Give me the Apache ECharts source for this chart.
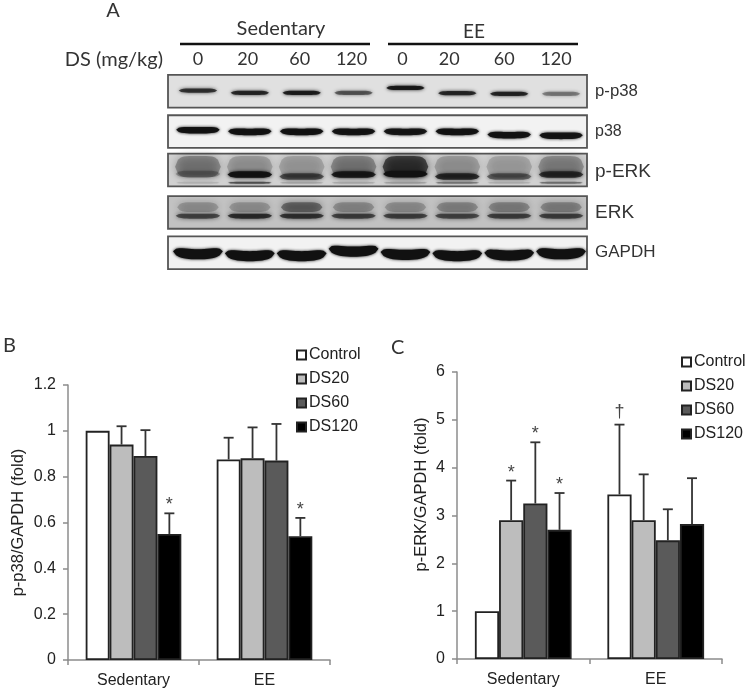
<!DOCTYPE html>
<html>
<head>
<meta charset="utf-8">
<style>html,body{margin:0;padding:0;background:#fff}#c{width:750px;height:692px}</style>
<script src="https://cdn.jsdelivr.net/npm/echarts@6/dist/echarts.min.js"></script>
</head>
<body>
<div id="c"></div>
<script>
// ---------- data ----------
const groups = ['Sedentary', 'EE'];
const seriesNames = ['Control', 'DS20', 'DS60', 'DS120'];
const p38Control = [1, 0.875];
const p38DS20 = [0.94, 0.88];
const p38DS60 = [0.89, 0.87];
const p38DS120 = [0.55, 0.54];
const p38ControlTop = [null, 0.97];
const p38DS20Top = [1.02, 1.015];
const p38DS60Top = [1.003, 1.03];
const p38DS120Top = [0.64, 0.62];
const p38Marks = [['', '', '', '*'], ['', '', '', '*']];
const erkControl = [1, 3.44];
const erkDS20 = [2.9, 2.9];
const erkDS60 = [3.25, 2.48];
const erkDS120 = [2.7, 2.82];
const erkControlTop = [null, 4.9];
const erkDS20Top = [3.73, 3.86];
const erkDS60Top = [4.53, 3.13];
const erkDS120Top = [3.47, 3.78];
const erkMarks = [['', '*', '*', '*'], ['\u2020', '', '', '']];
const p38Ticks = [0, 0.2, 0.4, 0.6, 0.8, 1, 1.2];
const erkTicks = [0, 1, 2, 3, 4, 5, 6];

const lanes = ['0', '20', '60', '120', '0', '20', '60', '120'];
const blotRows = ['p-p38', 'p38', 'p-ERK', 'ERK', 'GAPDH'];
const rowBackground = [0.12, 0.05, 0.18, 0.24, 0.05];
const pp38Bands = [0.72, 0.8, 0.88, 0.52, 0.9, 0.8, 0.82, 0.36];
const pp38Shift = [-0.02, 0.05, 0.05, 0.05, -0.1, 0.06, 0.08, 0.08];
const p38Bands = [0.98, 0.98, 0.98, 0.95, 0.92, 0.98, 0.98, 0.95];
const p38Shift = [-0.05, 0, 0, 0, 0, 0, 0.1, 0.12];
const perkMain = [0.25, 0.95, 0.55, 0.85, 0.95, 0.75, 0.45, 0.7];
const perkMainShift = [0.12, 0.14, 0.2, 0.14, 0.12, 0.2, 0.2, 0.14];
const perkSmear = [0.3, 0.2, 0.18, 0.3, 0.65, 0.2, 0.17, 0.28];
const perkFoot = [0.08, 0.5, 0.12, 0.12, 0.15, 0.3, 0.1, 0.35];
const erkLow = [0.58, 0.75, 0.7, 0.62, 0.62, 0.58, 0.62, 0.62];
const erkHigh = [0.2, 0.2, 0.42, 0.24, 0.22, 0.26, 0.28, 0.28];
const gapdhBands = [1, 1, 1, 1, 1, 1, 1, 1];
const gapdhShift = [0, 0.06, 0.06, -0.08, 0.02, 0.06, 0.04, 0];

// ---------- styles ----------
const barFill = ['#ffffff', '#bdbdbd', '#5a5a5a', '#000000'];
const sansText = '"Liberation Sans", Arial, sans-serif';
const blotFont = 'Lato, "Open Sans", sans-serif';
const catGap = 0.27;
const rowNudge = [0, 0, -2, 0, 0];
const doseNudge = [0, 2, 2, 2, 3, 8, 5, 5];

function barSeries(name, i, values, axis) {
  return {
    type: 'bar', name, data: values, xAxisIndex: axis, yAxisIndex: axis,
    barGap: '0%', barCategoryGap: (catGap * 100) + '%',
    itemStyle: { color: barFill[i], borderColor: '#222', borderWidth: 1.8 },
    emphasis: { disabled: true }, animation: false, z: 2
  };
}

function errorSeries(valueSets, topSets, marks, axis) {
  const rows = [];
  groups.forEach((g, c) => seriesNames.forEach((s, i) => {
    rows.push([c, i, topSets[i][c] == null ? valueSets[i][c] : topSets[i][c], valueSets[i][c], marks[c][i]]);
  }));
  return {
    type: 'custom', data: rows, xAxisIndex: axis, yAxisIndex: axis, silent: true,
    encode: { x: 0, y: 2 }, animation: false, z: 3, clip: false, legendHoverLink: false,
    renderItem(params, api) {
      const c = api.value(0), i = api.value(1), top = api.value(2), val = api.value(3);
      const mark = rows[params.dataIndex][4];
      const band = api.size([1, 0])[0];
      const barW = band * (1 - catGap) / 4;
      const x = api.coord([c, val])[0] + (i - 1.5) * barW;
      const y0 = api.coord([c, val])[1];
      const y1 = api.coord([c, top])[1];
      const kids = [];
      const ln = { stroke: '#333', lineWidth: 1.8 };
      if (top > val) {
        kids.push({ type: 'line', shape: { x1: x, y1: y0, x2: x, y2: y1 }, style: ln });
        kids.push({ type: 'line', shape: { x1: x - 5, y1: y1, x2: x + 5, y2: y1 }, style: ln });
      }
      if (mark) {
        kids.push({ type: 'text', style: { x, y: y1 - (mark === '*' ? 8 : 13), text: mark, fill: '#444', font: '18px ' + sansText, textAlign: 'center', textVerticalAlign: 'middle' } });
      }
      return { type: 'group', children: kids };
    }
  };
}

function bandItems() {
  const out = [];
  const add = (row, strengths, shifts, thick, width, blur, bow) => {
    strengths.forEach((s, lane) => out.push([lane, row, s, Array.isArray(shifts) ? shifts[lane] : shifts, thick, width, blur, bow]));
  };
  add(0, pp38Bands, pp38Shift, 0.13, 0.74, 3.5, 0);
  add(1, p38Bands, p38Shift, 0.2, 0.84, 3, 0.02);
  add(2, perkSmear, -0.1, 0.66, 0.88, 8, 0);
  add(2, perkFoot, 0.39, 0.06, 0.84, 2, 0);
  add(2, perkMain, perkMainShift, 0.2, 0.86, 3.5, 0);
  add(3, erkHigh, -0.16, 0.3, 0.8, 7, 0);
  add(3, erkLow, 0.11, 0.15, 0.86, 4.5, 0.02);
  add(4, gapdhBands, gapdhShift, 0.31, 0.96, 3, 0.09);
  return out;
}

function yAxisFor(ticks, gridIndex, nameText, nameGap, padding) {
  return {
    type: 'value', gridIndex, min: ticks[0], max: ticks[ticks.length - 1], interval: ticks[1] - ticks[0],
    name: nameText, nameLocation: 'middle', nameGap, nameRotate: 90,
    nameTextStyle: { fontFamily: sansText, fontSize: 16.5, color: '#222', padding },
    axisLine: { show: true, lineStyle: { color: '#8c8c8c', width: 1.5 } },
    axisTick: { show: true, length: 5, lineStyle: { color: '#8c8c8c', width: 1.5 } },
    axisLabel: { fontFamily: sansText, fontSize: 16, color: '#222', margin: 12 },
    splitLine: { show: false }
  };
}

function xAxisFor(gridIndex) {
  return {
    type: 'category', gridIndex, data: groups,
    axisLine: { show: true, lineStyle: { color: '#8c8c8c', width: 1.5 } },
    axisTick: { show: true, length: 5, alignWithLabel: false, lineStyle: { color: '#8c8c8c', width: 1.5 } },
    axisLabel: { fontFamily: sansText, fontSize: 16, color: '#222', margin: 13 }
  };
}

function legendFor(left, top) {
  return {
    left, top, orient: 'vertical', data: seriesNames, icon: 'rect', itemWidth: 9, itemHeight: 9, itemGap: 8,
    selectedMode: false,
    textStyle: { fontFamily: sansText, fontSize: 16, color: '#222', padding: [0, 0, 0, -2] }
  };
}

function headerText(x, y, text, size, align) {
  return { type: 'text', x, y, silent: true, style: { text, fill: '#333', font: size + 'px ' + blotFont, textAlign: align || 'center', textVerticalAlign: 'middle' } };
}
function headerLine(x1, x2, y) {
  return { type: 'line', silent: true, shape: { x1, y1: y, x2, y2: y }, style: { stroke: '#111', lineWidth: 2.5 } };
}

const option = {
  animation: false,
  backgroundColor: '#fff',
  grid: [
    { left: 172, top: 71, width: 415, height: 202 },
    { left: 68, top: 385, width: 262, height: 275 },
    { left: 457, top: 372, width: 265, height: 287 }
  ],
  legend: [legendFor(291, 342), legendFor(676, 349)],
  xAxis: [
    {
      type: 'category', gridIndex: 0, position: 'top', offset: 0,
      data: lanes.map((v, i) => ({ value: v, textStyle: { padding: [0, doseNudge[i] * 2, 0, 0] } })),
      axisLine: { show: false }, axisTick: { show: false },
      axisLabel: { fontFamily: blotFont, fontSize: 18, color: '#333', margin: 3, interval: 0 }
    },
    xAxisFor(1), xAxisFor(2)
  ],
  yAxis: [
    {
      type: 'category', gridIndex: 0, inverse: true, position: 'right',
      data: [
        { value: blotRows[0], textStyle: { fontFamily: sansText, fontSize: 16.8, padding: [8, 0, 0, 0] } },
        { value: blotRows[1], textStyle: { fontFamily: sansText, fontSize: 16, padding: [4, 0, 0, 0] } },
        { value: blotRows[2], textStyle: { fontFamily: sansText, fontSize: 19 } },
        { value: blotRows[3], textStyle: { fontFamily: sansText, fontSize: 19 } },
        { value: blotRows[4], textStyle: { fontFamily: sansText, fontSize: 17, padding: [3, 0, 0, 0] } }
      ],
      axisLine: { show: false }, axisTick: { show: false },
      axisLabel: { color: '#333', margin: 8, align: 'left', interval: 0 }
    },
    yAxisFor(p38Ticks, 1, 'p-p38/GAPDH (fold)', 41, [0, 0, 0, 0]),
    yAxisFor(erkTicks, 2, 'p-ERK/GAPDH (fold)', 27, [0, 0, 0, 42])
  ],
  graphic: [
    headerText(113, 11, 'A', 20),
    headerText(3, 346, 'B', 20, 'left'),
    headerText(391, 348, 'C', 20, 'left'),
    headerText(281, 29, 'Sedentary', 20),
    headerText(474, 32, 'EE', 19),
    headerText(163, 60, 'DS (mg/kg)', 20, 'right'),
    headerLine(180, 370, 44),
    headerLine(388, 578, 44)
  ],
  series: [
    {
      type: 'custom', xAxisIndex: 0, yAxisIndex: 0, silent: true, animation: false, z: 1, clip: false,
      data: rowBackground.map((v, r) => [0, r, v]), encode: { x: 0, y: 1 },
      renderItem(params, api) {
        const g = params.coordSys;
        const r = api.value(1);
        const cy = api.coord([0, r])[1] + rowNudge[r];
        const h = api.size([0, 1])[1] * 0.81;
        const level = Math.round(255 * (1 - api.value(2)));
        return {
          type: 'rect',
          shape: { x: g.x - 4, y: cy - h / 2, width: g.width + 4, height: h },
          style: { fill: 'rgb(' + level + ',' + level + ',' + level + ')', stroke: '#555', lineWidth: 1.8 }
        };
      }
    },
    {
      type: 'custom', xAxisIndex: 0, yAxisIndex: 0, silent: true, animation: false, z: 2, clip: false,
      data: bandItems(), encode: { x: 0, y: 1 },
      renderItem(params, api) {
        const lane = api.value(0), row = api.value(1), strength = api.value(2);
        const band = api.size([1, 1]);
        const c = api.coord([lane, row]);
        const h = band[1] * 0.81;
        const t = api.value(4) * h, w = api.value(5) * band[0];
        const bow = api.value(7) * h;
        const cy = c[1] + rowNudge[row] + api.value(3) * h;
        const top = [], bottom = [];
        for (let k = 0; k <= 16; k++) {
          const u = k / 8 - 1;
          const half = t / 2 * Math.pow(1 - Math.pow(Math.abs(u), 5), 0.6);
          const mid = cy + bow * (0.5 - u * u);
          top.push([c[0] + u * w / 2, mid - half]);
          bottom.unshift([c[0] + u * w / 2, mid + half]);
        }
        return {
          type: 'polygon',
          shape: { points: top.concat(bottom) },
          style: { fill: '#111', opacity: strength, shadowBlur: api.value(6), shadowColor: '#111' }
        };
      }
    },
    barSeries('Control', 0, p38Control, 1),
    barSeries('DS20', 1, p38DS20, 1),
    barSeries('DS60', 2, p38DS60, 1),
    barSeries('DS120', 3, p38DS120, 1),
    errorSeries([p38Control, p38DS20, p38DS60, p38DS120], [p38ControlTop, p38DS20Top, p38DS60Top, p38DS120Top], p38Marks, 1),
    barSeries('Control', 0, erkControl, 2),
    barSeries('DS20', 1, erkDS20, 2),
    barSeries('DS60', 2, erkDS60, 2),
    barSeries('DS120', 3, erkDS120, 2),
    errorSeries([erkControl, erkDS20, erkDS60, erkDS120], [erkControlTop, erkDS20Top, erkDS60Top, erkDS120Top], erkMarks, 2)
  ]
};
const chart = echarts.init(document.getElementById('c'), null, { renderer: 'canvas' });
chart.setOption(option);
</script>
</body>
</html>
